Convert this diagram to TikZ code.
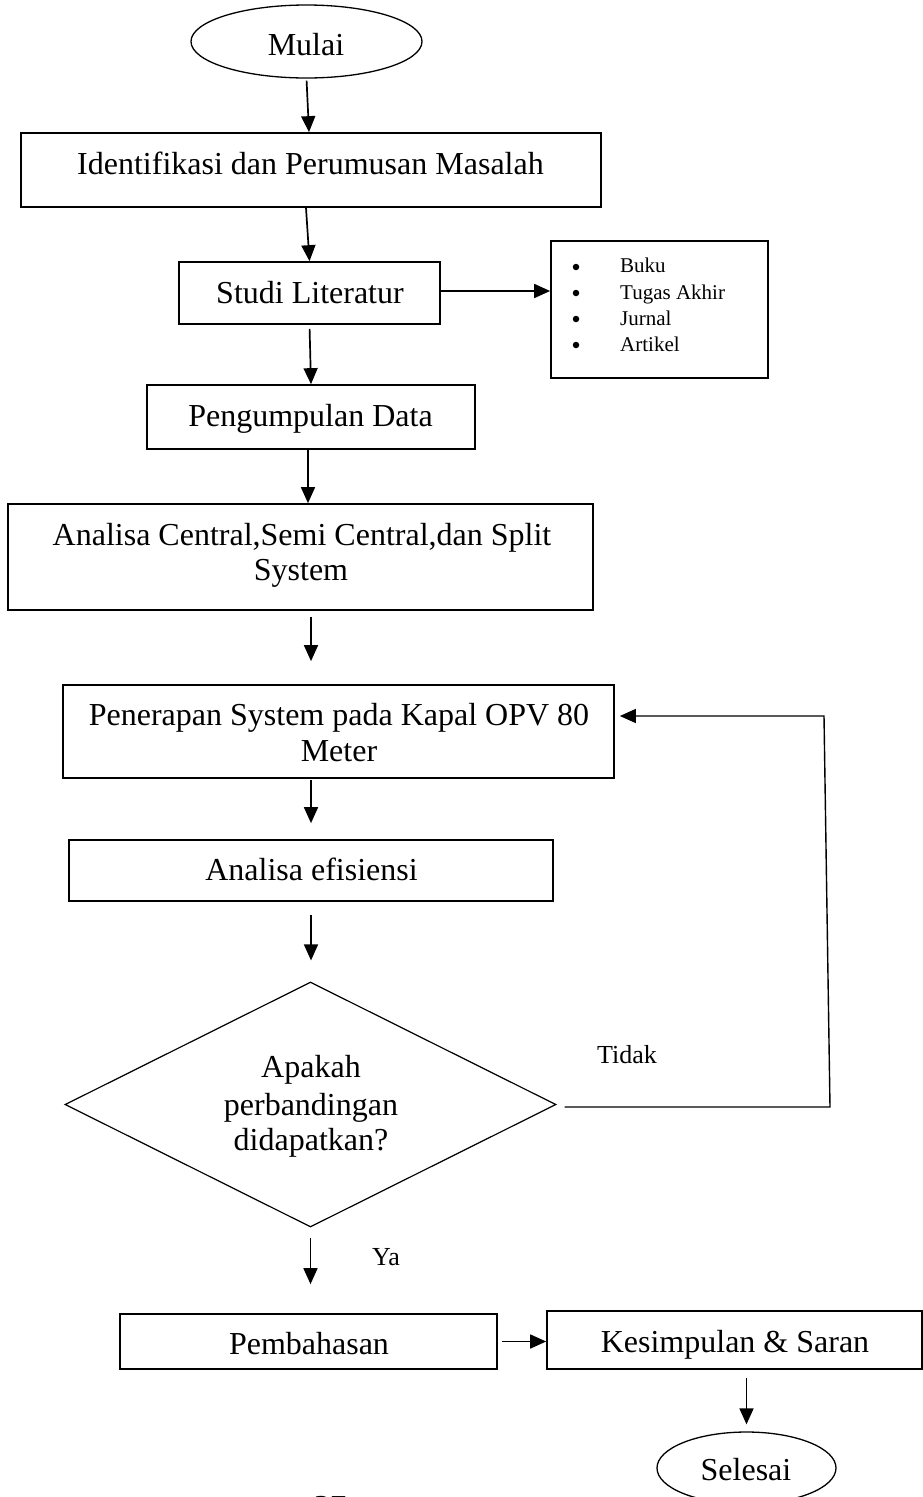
\documentclass[tikz,border=0pt]{standalone}
\usepackage{fontspec}
\setmainfont{Liberation Serif}
\usetikzlibrary{shapes.geometric,arrows.meta}
\begin{document}
\begin{tikzpicture}[x=1pt,y=-1pt,
  shapebox/.style={draw,line width=1.7pt,inner sep=0pt,rectangle},
  oval/.style={draw,line width=1.3pt,inner sep=0pt,ellipse},
  decision/.style={draw,line width=1.2pt,inner sep=0pt,diamond},
  txt/.style={anchor=base,inner sep=0pt,font=\fontsize{32}{38}\selectfont},
  smalltxt/.style={anchor=base west,inner sep=0pt,font=\fontsize{21}{25}\selectfont},
  bulletdot/.style={circle,fill,inner sep=0pt,minimum size=6.5pt},
  labtxt/.style={anchor=base,inner sep=0pt,font=\fontsize{26}{30}\selectfont},
  arr/.style={line width=1.7pt,-{Triangle[length=16pt,width=14pt]}},
  fbarr/.style={line width=1.4pt,-{Triangle[length=16pt,width=14pt]}}]
\useasboundingbox (0,0) rectangle (923,1497);
\fill[white] (0,0) rectangle (923,1497);
\clip (0,0) rectangle (923,1497);

% shapes
\node[oval,minimum width=231pt,minimum height=73pt] (mulai) at (306.5,41.5) {};
\node[shapebox,minimum width=580pt,minimum height=74pt] (ident) at (311,170) {};
\node[shapebox,minimum width=261pt,minimum height=62pt] (studi) at (309.5,293) {};
\node[shapebox,minimum width=217pt,minimum height=137pt] (list) at (659.5,309.5) {};
\node[shapebox,minimum width=328pt,minimum height=64pt] (kumpul) at (311,417) {};
\node[shapebox,minimum width=585pt,minimum height=106pt] (central) at (300.5,557) {};
\node[shapebox,minimum width=551pt,minimum height=93pt] (pen) at (338.5,731.5) {};
\node[shapebox,minimum width=484pt,minimum height=61pt] (efis) at (311,870.5) {};
\node[decision,minimum width=491pt,minimum height=245pt] (dec) at (310.5,1104.5) {};
\node[shapebox,minimum width=377pt,minimum height=55pt] (bahas) at (308.5,1341.5) {};
\node[shapebox,minimum width=375pt,minimum height=58pt] (simpul) at (734.5,1340) {};
\node[oval,minimum width=179pt,minimum height=72pt] (selesai) at (746.5,1468) {};

% texts
\node[txt] (tmulai) at (306,55) {Mulai};
\node[txt] (tident) at (310.5,174) {Identifikasi dan Perumusan Masalah};
\node[txt] (tstudi) at (310,303) {Studi Literatur};
\node[bulletdot] (b1) at (576,267) {};
\node[bulletdot] (b2) at (576,293) {};
\node[bulletdot] (b3) at (576,319) {};
\node[bulletdot] (b4) at (576,345) {};
\node[smalltxt] (l1) at (620,272) {Buku};
\node[smalltxt] (l2) at (620,299) {Tugas Akhir};
\node[smalltxt] (l3) at (620,325) {Jurnal};
\node[smalltxt] (l4) at (620,351) {Artikel};
\node[txt] (tkumpul) at (310.5,426) {Pengumpulan Data};
\node[txt] (tcentral1) at (302,545) {Analisa Central,Semi Central,dan Split};
\node[txt] (tcentral2) at (301,580) {System};
\node[txt] (tpen1) at (339,725) {Penerapan System pada Kapal OPV 80};
\node[txt] (tpen2) at (339,761) {Meter};
\node[txt] (tefis) at (311.5,880) {Analisa efisiensi};
\node[txt] (tdec1) at (311,1077) {Apakah};
\node[txt] (tdec2) at (311,1115) {perbandingan};
\node[txt] (tdec3) at (311,1150) {didapatkan?};
\node[labtxt] (ttidak) at (627,1063) {Tidak};
\node[labtxt] (tya) at (386,1265) {Ya};
\node[txt] (tbahas) at (309,1354) {Pembahasan};
\node[txt] (tsimpul) at (735,1352) {Kesimpulan \& Saran};
\node[txt] (tselesai) at (746,1480) {Selesai};
\node[txt,font=\fontsize{32}{38}\selectfont\bfseries] (tpage) at (330,1517) {37};

% connectors
\draw[arr,shorten <=2pt] (mulai.south) -- ([xshift=-2pt]ident.north);
\draw[arr] ([xshift=-5pt]ident.south) -- (studi.north);
\coordinate (a1) at ([yshift=2pt]studi.east);
\draw[arr] (a1) -- (a1 -| list.west);
\draw[arr,shorten <=4pt] (studi.south) -- (kumpul.north);
\draw[arr] ([xshift=-3pt]kumpul.south) -- ([xshift=-3pt]kumpul.south |- central.north);
\draw[arr,shorten <=6pt,shorten >=23pt] ([xshift=10.5pt]central.south) -- ([xshift=10.5pt]central.south |- pen.north);
\draw[arr,shorten <=1pt,shorten >=16pt] (efis.north |- pen.south) -- (efis.north);
\draw[arr,shorten <=13pt,shorten >=21pt] (efis.south) -- (efis.south |- dec.north);
\draw[arr,shorten <=10pt,shorten >=29pt] (dec.south) -- (dec.south |- bahas.north);
\draw[arr,shorten <=4pt] (bahas.east) -- (bahas.east -| simpul.west);
\draw[arr,shorten <=8pt,shorten >=7pt] (selesai.north |- simpul.south) -- (selesai.north);
\coordinate (fb1) at (830,1107);
\coordinate (fb2) at (824,716);
\draw[fbarr,shorten <=8pt,shorten >=5pt] ([yshift=-2.5pt]dec.east) -- (fb1) -- (fb2) -- (fb2 -| pen.east);
\end{tikzpicture}
\end{document}
